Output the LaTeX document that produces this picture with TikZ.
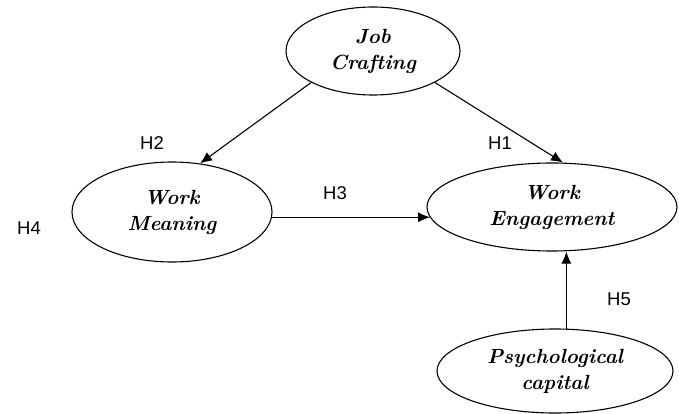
\documentclass[tikz,border=0pt]{standalone}
\usepackage{fontspec}
\newfontfamily\hypfont{Liberation Sans}
\usepackage{tikz}
\usetikzlibrary{shapes.geometric}
\usetikzlibrary{arrows.meta}
\usetikzlibrary{calc}
\tikzset{construct/.style={draw, ellipse, line width=1.1pt, inner sep=0pt, align=center,
    font=\fontsize{20.5}{26}\selectfont\bfseries\itshape},
  hyp/.style={font=\fontsize{18.5}{20}\selectfont\hypfont, inner sep=0pt},
  path/.style={line width=1.1pt, -{Latex[length=12pt,width=10pt]}}}

\begin{document}
\begin{tikzpicture}[x=1pt,y=-1pt]
  \useasboundingbox (0,0) rectangle (679,414);
  \node[construct, minimum width=174pt, minimum height=88pt] (jc) at (373,51) {Job\\Crafting};
  \node[construct, minimum width=200pt, minimum height=100pt] (wm) at (172,212) {Work\\Meaning};
  \node[construct, minimum width=250pt, minimum height=88pt] (we) at (552,207) {Work\\Engagement};
  \node[construct, minimum width=236pt, minimum height=84pt] (pc) at (555,371) {Psychological\\capital};
  \draw[path] (jc.207) -- (wm.60);
  \draw[path] (jc.333) -- (we.76);
  \draw[path] (wm.-3) -- (wm.-3 -| we.185);
  \draw[path] (pc.75) -- (pc.75 |- we.south);
  \node[hyp] (h1) at (500,143) {H1};
  \node[hyp] (h2) at (152,143) {H2};
  \node[hyp] (h3) at (335,193) {H3};
  \node[hyp] (h4) at (29,228) {H4};
  \node[hyp] (h5) at (619,299) {H5};
\end{tikzpicture}
\end{document}
